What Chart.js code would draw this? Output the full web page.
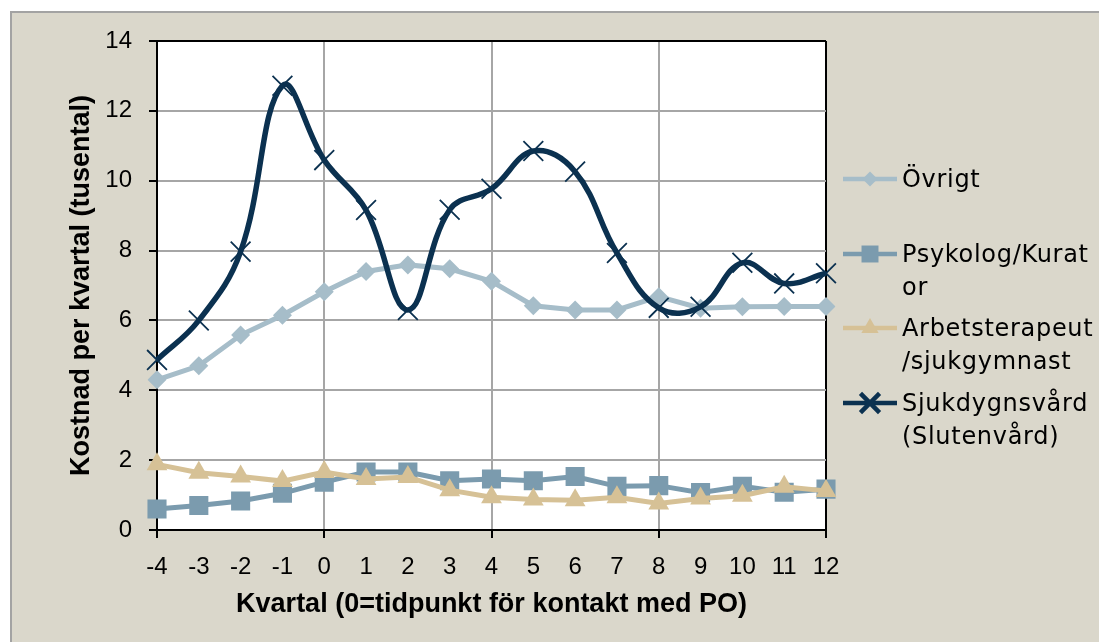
<!DOCTYPE html>
<html><head><meta charset="utf-8">
<script src="https://cdn.jsdelivr.net/npm/chart.js@4.4.1/dist/chart.umd.min.js"></script>
<style>
html,body{margin:0;padding:0;background:#fff;width:1099px;height:642px;overflow:hidden;}
#frame{position:absolute;left:10px;top:11px;width:1100px;height:640px;background:#dad7cb;border-left:2px solid #a3a3a3;border-top:2px solid #a3a3a3;}
#c{position:absolute;left:0;top:0;}
</style></head><body>
<div id="frame"></div>
<canvas id="c" width="1099" height="642"></canvas>
<script>
const quarters = ['-4','-3','-2','-1','0','1','2','3','4','5','6','7','8','9','10','11','12'];
const seriesNames = ['Övrigt', 'Psykolog/Kuratör', 'Arbetsterapeut/sjukgymnast', 'Sjukdygnsvård (Slutenvård)'];
const legendLines = [['Övrigt'], ['Psykolog/Kurat', 'or'], ['Arbetsterapeut', '/sjukgymnast'], ['Sjukdygnsvård', '(Slutenvård)']];
const ovrigt    = [4.30, 4.70, 5.58, 6.15, 6.82, 7.40, 7.59, 7.48, 7.12, 6.42, 6.30, 6.30, 6.68, 6.35, 6.39, 6.40, 6.40];
const psykolog  = [0.60, 0.70, 0.83, 1.05, 1.37, 1.66, 1.66, 1.41, 1.46, 1.41, 1.53, 1.25, 1.27, 1.07, 1.25, 1.08, 1.17];
const arbets    = [1.88, 1.64, 1.53, 1.40, 1.66, 1.46, 1.52, 1.14, 0.94, 0.87, 0.85, 0.94, 0.76, 0.90, 0.98, 1.24, 1.12];
const sjuk      = [4.87, 6.00, 7.97, 12.72, 10.59, 9.16, 6.30, 9.17, 9.77, 10.85, 10.26, 7.93, 6.36, 6.39, 7.65, 7.06, 7.35];
const yTicks = [0, 2, 4, 6, 8, 10, 12, 14];
const xTitle = 'Kvartal (0=tidpunkt för kontakt med PO)';
const yTitle = 'Kostnad per kvartal (tusental)';

const colors = ['#a6bdc9', '#7b9bae', '#d6c196', '#0b3150'];
const styles = ['rectRot', 'rect', 'triangle', 'crossRot'];
const radii = [9.5, 13.5, 12, 14];
const legendRadii = [7.5, 12, 10, 13.5];

const plotBg = {
  id: 'plotBg',
  beforeDraw(chart) {
    const {ctx, chartArea: a} = chart;
    ctx.save(); ctx.fillStyle = '#fff';
    ctx.fillRect(a.left, a.top, a.right - a.left, a.bottom - a.top);
    ctx.restore();
  }
};

const customLegend = {
  id: 'customLegend',
  afterDraw(chart) {
    const ctx = chart.ctx;
    const rowY = [179, 254, 328, 403];
    const x0 = 843, x1 = 897, xm = 870, tx = 902, lh = 32.5;
    ctx.save();
    legendLines.forEach((lines, i) => {
      const y = rowY[i];
      ctx.strokeStyle = colors[i]; ctx.lineWidth = 4.5; ctx.lineCap = 'butt';
      ctx.beginPath(); ctx.moveTo(x0, y); ctx.lineTo(x1, y); ctx.stroke();
      ctx.fillStyle = colors[i]; ctx.strokeStyle = colors[i];
      Chart.helpers.drawPoint(ctx, {pointStyle: styles[i], radius: legendRadii[i], rotation: 0, borderWidth: i === 3 ? 1.8 : 0}, xm, y);
      ctx.fillStyle = '#000';
      ctx.font = '24px "DejaVu Sans"';
      ctx.letterSpacing = '0.7px';
      ctx.textBaseline = 'middle'; ctx.textAlign = 'left';
      lines.forEach((t, j) => ctx.fillText(t, tx, y + 2 + j * lh));
    });
    ctx.restore();
  }
};

const datasets = [ovrigt, psykolog, arbets, sjuk].map((d, i) => ({
  label: seriesNames[i],
  data: d,
  borderColor: colors[i],
  backgroundColor: colors[i],
  pointBackgroundColor: colors[i],
  pointBorderColor: colors[i],
  borderWidth: i === 3 ? 5.5 : 5,
  pointStyle: styles[i],
  pointRadius: radii[i],
  pointBorderWidth: i === 3 ? 1.8 : 0,
  tension: i === 3 ? 0.4 : 0,
  order: 3 - i
}));

new Chart(document.getElementById('c'), {
  type: 'line',
  data: {labels: quarters, datasets},
  options: {
    responsive: false,
    animation: false,
    devicePixelRatio: 1,
    layout: {padding: {left: 0, top: 41, right: 273, bottom: 0}},
    plugins: {legend: {display: false}, tooltip: {enabled: false}},
    scales: {
      x: {
        type: 'category',
        offset: false,
        afterFit: s => { s.height = 112; },
        grid: {
          color: c => c.index === 16 ? '#000' : (c.index % 4 === 0 ? '#a6a6a6' : 'rgba(0,0,0,0)'),
          tickColor: c => c.index % 4 === 0 ? '#000' : 'rgba(0,0,0,0)',
          lineWidth: 2, tickLength: 8, drawTicks: true
        },
        border: {color: '#000', width: 2},
        ticks: {color: '#000', font: {family: '"Liberation Sans"', size: 24}, padding: 15, maxRotation: 0, autoSkip: false},
        title: {display: true, text: xTitle, color: '#000', font: {family: '"Liberation Sans"', size: 27, weight: 'bold'}, padding: {top: 0, bottom: 21}}
      },
      y: {
        min: 0, max: 14,
        afterFit: s => { s.width = 157; },
        afterBuildTicks: s => { s.ticks = yTicks.map(v => ({value: v})); },
        grid: {
          color: c => (c.tick && (c.tick.value === 14 || c.tick.value === 0)) ? '#000' : '#a6a6a6',
          tickColor: '#000', lineWidth: 2, tickLength: 8, drawTicks: true
        },
        border: {color: '#000', width: 2},
        ticks: {color: '#000', font: {family: '"Liberation Sans"', size: 24}, padding: 17},
        title: {display: true, text: yTitle, color: '#000', font: {family: '"Liberation Sans"', size: 27, weight: 'bold'}, padding: {top: 65, bottom: 0}}
      }
    }
  },
  plugins: [plotBg, customLegend]
});
</script>
</body></html>
